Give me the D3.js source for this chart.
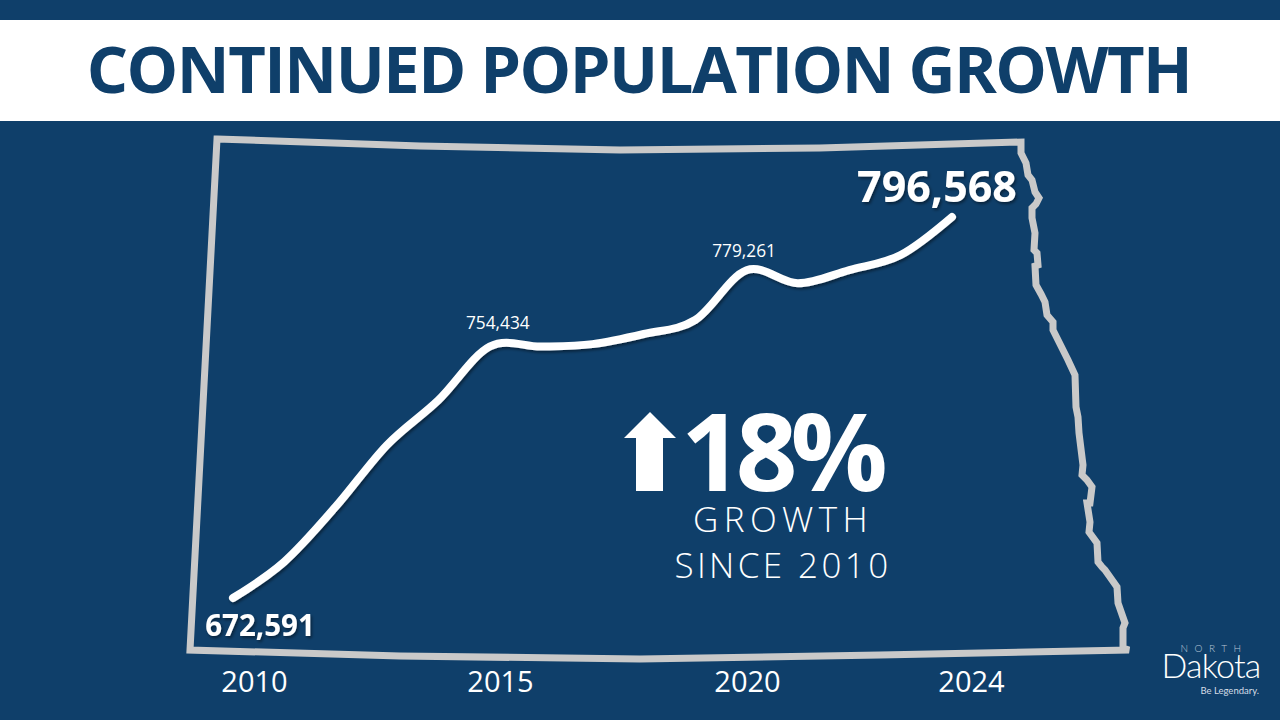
<!DOCTYPE html>
<html>
<head>
<meta charset="utf-8">
<script src="https://cdn.jsdelivr.net/npm/d3@7"></script>
<style>
  html, body { margin: 0; padding: 0; background: #0f3f6a; overflow: hidden; }
  text { font-family: "Open Sans", sans-serif; fill: #fff; }
</style>
</head>
<body>
<script>
const width = 1280;
const height = 720;
const navy = "#0f3f6a";

const years = [2010, 2011, 2012, 2013, 2014, 2015, 2016, 2017, 2018, 2019, 2020, 2021, 2022, 2023, 2024];
const population = [672591, 684400, 702300, 722400, 737000, 754434, 754400, 755200, 758500, 763050, 779261, 775000, 779300, 784200, 796568];
const tickYears = [2010, 2015, 2020, 2024];

// big and small callouts on the line
const callouts = [
  { year: 2010, value: 672591, size: 29.5, weight: 700, dx: 27, dy: 38 },
  { year: 2015, value: 754434, size: 17.3, weight: 400, dx: 8, dy: -17 },
  { year: 2020, value: 779261, size: 17.3, weight: 400, dx: -2.5, dy: -13 },
  { year: 2024, value: 796568, size: 43, weight: 700, dx: -15, dy: -15 }
];

// state outline, traced by hand
const outline = [
  [217, 139], [420, 146], [620, 150], [820, 148], [1021, 142], [1021, 153], [1026, 163], [1028, 175],
  [1032, 180], [1035, 192], [1039, 198], [1036, 204], [1032, 208], [1032, 218], [1035, 233], [1034, 250],
  [1037, 253], [1038, 265], [1035, 266], [1036, 285], [1041, 294], [1045, 302], [1047, 315], [1053, 322],
  [1053, 330], [1068, 360], [1075, 375], [1076, 407], [1078, 417], [1079, 433], [1083, 465], [1082, 475],
  [1087, 480], [1092, 487], [1090, 503], [1087, 503], [1090, 522], [1089, 532], [1097, 543], [1098, 562],
  [1102, 567], [1105, 570], [1117, 587], [1118, 603], [1125, 623], [1123, 628], [1123, 648], [1129, 650],
  [880, 655], [640, 659], [400, 656], [190, 650]
];

const arrow = [[650, 412], [676, 438], [663, 438], [663, 491], [636, 491], [636, 438], [624, 438]];

const x = d3.scaleLinear().domain([2010, 2024]).range([233, 952]);
const y = d3.scaleLinear().domain([672591, 796568]).range([598, 217]);
const labelX = d3.scaleLinear().domain(tickYears).range([254, 500, 747, 971]);

const svg = d3.select("body")
  .append("svg")
  .attr("width", width)
  .attr("height", height)
  .style("display", "block");

const shadow = svg.append("defs").append("filter")
  .attr("id", "shadow")
  .attr("x", "-10%").attr("y", "-10%")
  .attr("width", "120%").attr("height", "130%");
shadow.append("feDropShadow")
  .attr("dx", 1.5).attr("dy", 2)
  .attr("stdDeviation", 1.5)
  .attr("flood-color", "#000")
  .attr("flood-opacity", 0.45);

svg.append("rect").attr("width", width).attr("height", height).attr("fill", navy);
svg.append("rect").attr("y", 20).attr("width", width).attr("height", 101).attr("fill", "#fff");

svg.append("text")
  .attr("x", 639)
  .attr("y", 93)
  .attr("text-anchor", "middle")
  .attr("font-size", 65)
  .attr("font-weight", 700)
  .attr("letter-spacing", -1.5)
  .style("fill", navy)
  .text("CONTINUED POPULATION GROWTH");

svg.append("path")
  .attr("d", d3.line()(outline) + "Z")
  .attr("fill", "none")
  .attr("stroke", "#c9c9c9")
  .attr("stroke-width", 7)
  .attr("stroke-linejoin", "miter");

const line = d3.line()
  .x((d, i) => x(years[i]))
  .y(d => y(d))
  .curve(d3.curveCatmullRom.alpha(0));

svg.append("path")
  .attr("d", line(population))
  .attr("fill", "none")
  .attr("stroke", "#fff")
  .attr("stroke-width", 8)
  .attr("stroke-linecap", "round")
  .attr("filter", "url(#shadow)");

svg.selectAll(".callout")
  .data(callouts)
  .join("text")
  .attr("class", "callout")
  .attr("x", d => x(d.year) + d.dx)
  .attr("y", d => y(d.value) + d.dy)
  .attr("text-anchor", "middle")
  .attr("font-size", d => d.size)
  .attr("font-weight", d => d.weight)
  .attr("filter", d => d.weight === 700 ? "url(#shadow)" : null)
  .text(d => d3.format(",")(d.value));

const axis = svg.append("g")
  .attr("transform", "translate(0,666)")
  .call(d3.axisBottom(labelX).tickValues(tickYears).tickFormat(d3.format("d")).tickSize(0).tickPadding(0));
axis.select(".domain").remove();
axis.selectAll("text")
  .attr("font-size", 29)
  .attr("font-family", "'Open Sans', sans-serif")
  .attr("font-weight", 400)
  .attr("dy", "0.9em");

// 18% growth block
svg.append("path").attr("d", d3.line()(arrow) + "Z").attr("fill", "#fff");

svg.append("text")
  .attr("x", 781).attr("y", 491)
  .attr("text-anchor", "middle")
  .attr("font-size", 108)
  .attr("font-weight", 700)
  .attr("letter-spacing", -7)
  .text("18%");

svg.append("text")
  .attr("x", 783).attr("y", 532)
  .attr("text-anchor", "middle")
  .attr("font-size", 35)
  .attr("font-weight", 300)
  .attr("letter-spacing", 5.4)
  .text("GROWTH");

svg.append("text")
  .attr("x", 783).attr("y", 578)
  .attr("text-anchor", "middle")
  .attr("font-size", 35)
  .attr("font-weight", 300)
  .attr("letter-spacing", 3.4)
  .text("SINCE 2010");

// logo
svg.append("text")
  .attr("x", 1214).attr("y", 652)
  .attr("text-anchor", "middle")
  .attr("font-size", 10)
  .attr("font-weight", 300)
  .attr("letter-spacing", 6.5)
  .style("font-family", "Lato, sans-serif")
  .style("fill", "#b8c6d6")
  .text("NORTH");

svg.append("text")
  .attr("x", 1211).attr("y", 678)
  .attr("text-anchor", "middle")
  .attr("font-size", 34)
  .attr("font-weight", 300)
  .attr("letter-spacing", -0.8)
  .style("font-family", "Lato, sans-serif")
  .text("Dakota");

svg.append("text")
  .attr("x", 1259).attr("y", 694)
  .attr("text-anchor", "end")
  .attr("font-size", 9.5)
  .style("font-family", "Lato, sans-serif")
  .style("fill", "#d5dde6")
  .text("Be Legendary.");
</script>
</body>
</html>
